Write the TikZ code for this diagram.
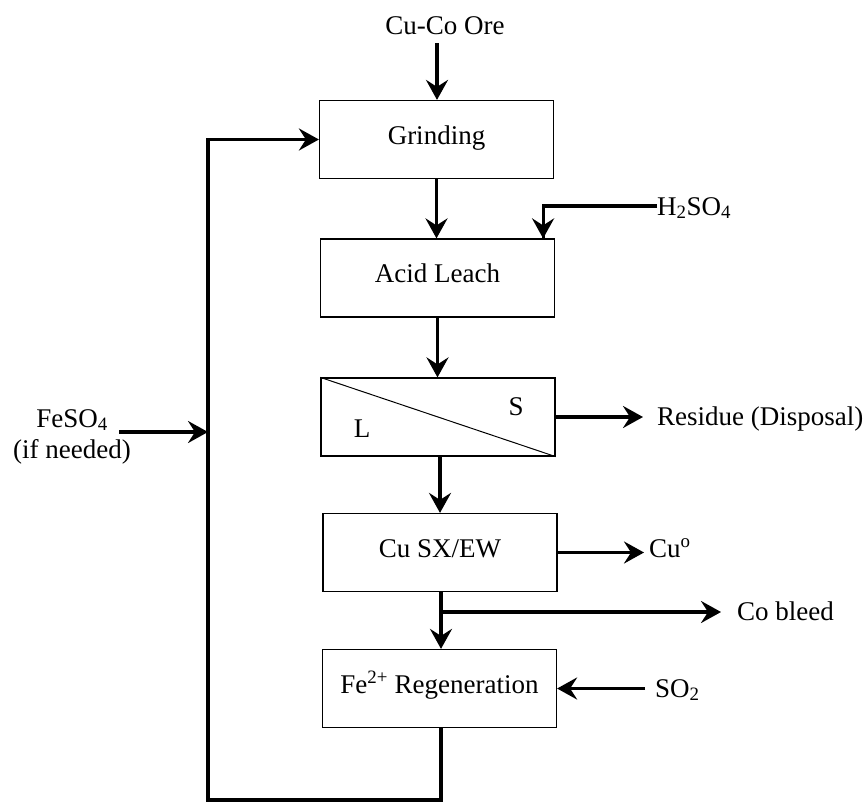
\documentclass[tikz,border=0pt]{standalone}
\usepackage{fontspec}
\setmainfont{Liberation Serif}
\usetikzlibrary{arrows.meta}
\begin{document}
\begin{tikzpicture}[x=1pt,y=-1pt,
  font=\fontsize{27}{31}\selectfont,
  box/.style={draw, line width=1.2pt, minimum width=234pt, minimum height=78pt, inner sep=0pt, text height=18pt, text depth=9pt},
  lbl/.style={inner sep=0pt, anchor=base west},
  tip/.tip={Stealth[length=20pt,width=22pt,inset=7pt]},
  arr/.style={line width=3.2pt, -tip},
  flow/.style={line width=3.2pt},
  looparr/.style={line width=3.8pt, line join=miter, -tip}]
\useasboundingbox (0,0) rectangle (866,803);

% boxes
\node[box] (grind) at (436.5,139.5) {Grinding};
\node[box] (acid) at (437.5,278) {Acid Leach};
\node[box] (sep) at (438,417) {};
\node[box] (cusx) at (440,552.5) {Cu SX/EW};
\node[box] (fe) at (439.5,688.5) {Fe\textsuperscript{2+} Regeneration};
\draw[line width=1pt] (sep.north west) -- (sep.south east);
\node[inner sep=0pt, anchor=base] (sS) at (516,415) {S};
\node[inner sep=0pt, anchor=base] (sL) at (362,437) {L};

% labels
\node[inner sep=0pt, anchor=base] (ore) at (445,34) {Cu-Co Ore};
\node[lbl] (h2so4) at (657,215) {H\textsubscript{2}SO\textsubscript{4}};
\node[lbl] (res) at (657,425) {Residue (Disposal)};
\node[lbl] (cu) at (649,557) {Cu\textsuperscript{o}};
\node[lbl] (cobleed) at (737,620) {Co bleed};
\node[lbl] (so2) at (655,697) {SO\textsubscript{2}};
\node[inner sep=0pt, anchor=base, align=center] (feso4) at (72,458) {FeSO\textsubscript{4}\\(if needed)};

% coordinates
\coordinate (oretop) at (437,43);
\coordinate (resend) at (643,417);
\coordinate (cuend) at (644,552.5);
\coordinate (coend) at (721,612);
\coordinate (cobr) at (441,612);
\coordinate (so2start) at (645,688.5);
\coordinate (lb) at (208,800);
\coordinate (festart) at (119,432);

% connectors
\draw[arr] (oretop) -- (oretop |- grind.north);
\draw[arr] (grind.south) -- (grind.south |- acid.north);
\draw[flow] (h2so4.west |- 0,206) -| ([xshift=-12pt]acid.north east);
\draw[arr] ([xshift=-12pt]acid.north east) ++(0,-10) -- ([xshift=-12pt]acid.north east);
\draw[arr] (acid.south) -- (acid.south |- sep.north);
\draw[arr] (sep.east) -- (resend);
\draw[arr] (sep.south -| 440,0) -- (cusx.north);
\draw[arr] (cusx.east) -- (cuend);
\draw[arr] (cusx.south -| cobr) -- (cobr |- fe.north);
\draw[arr] (cobr) -- (coend);
\draw[arr] (so2start) -- (fe.east);
\draw[looparr] (fe.south -| cobr) |- (lb) |- (grind.west);
\draw[arr] (festart) -- (festart -| lb);
\end{tikzpicture}
\end{document}
